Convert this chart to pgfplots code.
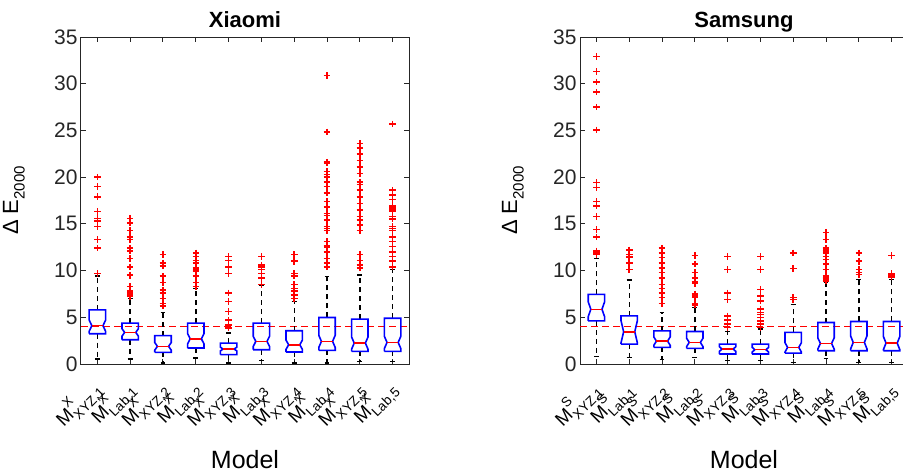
\documentclass[border=0pt]{standalone}
\usepackage{fontspec}
\setmainfont{Liberation Sans}
\usepackage{pgfplots}
\pgfplotsset{compat=1.18}
\definecolor{axc}{rgb}{0.15,0.15,0.15}
\newcommand{\ml}[2]{M\rlap{\raisebox{0.55em}{\fontsize{13.5}{13.5}\selectfont #1}}\raisebox{-0.32em}{\fontsize{13.5}{13.5}\selectfont #2}}
\newcommand{\nbox}[7]{%
 \pgfmathsetmacro\bxA{#1-0.25}\pgfmathsetmacro\bxB{#1+0.25}%
 \pgfmathsetmacro\bxC{#1-0.17}\pgfmathsetmacro\bxD{#1+0.17}%
 \pgfmathsetmacro\bnL{#4-#7}\pgfmathsetmacro\bnU{#4+#7}%
 \pgfmathsetmacro\bcA{#1-0.075}\pgfmathsetmacro\bcB{#1+0.075}%
 \addplot[whisk] coordinates {(#1,#5) (#1,#6)};
 \addplot[whisk] coordinates {(#1,#3) (#1,#2)};
 \addplot[capst] coordinates {(\bcA,#6) (\bcB,#6)};
 \addplot[capst] coordinates {(\bcA,#2) (\bcB,#2)};
 \addplot[boxst] coordinates {(\bxA,#3) (\bxA,\bnL) (\bxC,#4) (\bxA,\bnU) (\bxA,#5) (\bxB,#5) (\bxB,\bnU) (\bxD,#4) (\bxB,\bnL) (\bxB,#3) (\bxA,#3)};
 \addplot[medst] coordinates {(\bxC,#4) (\bxD,#4)};
}
\pgfplotsset{
 whisk/.style={black, line width=1.4pt, dash pattern=on 5pt off 4pt, forget plot},
 capst/.style={black, line width=1.4pt, forget plot},
 boxst/.style={blue, line width=1.6pt, forget plot},
 medst/.style={red, line width=1.5pt, forget plot},
 outl/.style={only marks, mark=+, color=red, mark size=3.3pt, mark options={line width=1.5pt, draw=red}, forget plot},
 bx/.style={scale only axis, width=328pt, height=327pt, anchor=south west,
  xmin=0.5, xmax=10.5, ymin=0, ymax=35, xtick={1,...,10}, ytick={0,5,...,35},
  tick align=inside, tick pos=both, major tick length=5pt,
  axis line style={draw=axc, line width=1pt},
  every tick/.style={axc, line width=1pt},
  /pgf/number format/assume math mode=true,
  yticklabel style={font=\fontsize{21}{21}\selectfont, text=axc},
  xticklabel style={rotate=45, anchor=east, inner sep=0pt, font=\fontsize{19}{19}\selectfont, text=black},
  xticklabel shift=21pt,
  title style={at={(axis description cs:0.5,1)}, anchor=base, yshift=4pt, inner sep=0pt, font=\fontsize{22}{22}\selectfont\bfseries},
  xlabel style={at={(axis description cs:0.5,-0.263)}, anchor=north, inner sep=0pt, font=\fontsize{25}{25}\selectfont},
  ylabel style={at={(axis description cs:-0.192,0.5)}, anchor=base, inner sep=0pt, font=\fontsize{22}{22}\selectfont},
  xlabel={Model},
  ylabel={Δ E\raisebox{-0.3em}{\fontsize{15}{15}\selectfont 2000}},
 }
}
\begin{document}
\begin{tikzpicture}[x=1pt,y=1pt]
\useasboundingbox (0,0) rectangle (903,472);
\begin{axis}[bx, at={(81pt,108pt)}, title={Xiaomi},
 xticklabels={{\ml{X}{XYZ,1}},{\ml{X}{Lab,1}},{\ml{X}{XYZ,2}},{\ml{X}{Lab,2}},{\ml{X}{XYZ,3}},{\ml{X}{Lab,3}},{\ml{X}{XYZ,4}},{\ml{X}{Lab,4}},{\ml{X}{XYZ,5}},{\ml{X}{Lab,5}}}]
\addplot[red, line width=1.3pt, dash pattern=on 7pt off 4pt, forget plot] coordinates {(0.5,4) (10.5,4)};
\nbox{1}{0.53}{3.24}{4.1}{5.8}{9.43}{0.6}
\nbox{2}{0.53}{2.6}{3.38}{4.38}{7.0}{0.4}
\nbox{3}{0.1}{1.25}{1.89}{3.03}{5.52}{0.4}
\nbox{4}{0.64}{1.71}{2.7}{4.38}{8.05}{0.55}
\nbox{5}{0.1}{1.0}{1.6}{2.24}{3.3}{0.2}
\nbox{6}{0.36}{1.53}{2.42}{4.38}{8.4}{0.55}
\nbox{7}{0.1}{1.28}{2.06}{3.56}{6.7}{0.5}
\nbox{8}{0.1}{1.46}{2.42}{4.98}{9.36}{0.65}
\nbox{9}{0.28}{1.35}{2.24}{4.8}{9.54}{0.65}
\nbox{10}{0.28}{1.35}{2.31}{4.9}{10.1}{0.65}
\addplot[outl] coordinates {
(1,20.0) (1,19.0) (1,17.9) (1,16.3) (1,15.6) (1,15.3) (1,14.7) (1,13.3) (1,12.4) (1,9.7)
(2,15.6) (2,15.1) (2,14.3) (2,13.6) (2,13.3) (2,12.4) (2,12.1) (2,11.3) (2,10.4) (2,9.5) (2,8.3) (2,7.8) (2,7.6) (2,7.4) (2,7.3) (2,7.2)
(3,11.7) (3,10.8) (3,10.5) (3,9.4) (3,8.7) (3,7.9) (3,7.6) (3,7.0) (3,6.5) (3,6.2)
(4,11.9) (4,11.5) (4,11.1) (4,10.8) (4,10.3) (4,10.1) (4,10.0) (4,9.9) (4,9.4) (4,8.7) (4,8.3)
(5,11.5) (5,11.1) (5,10.4) (5,9.7) (5,7.6) (5,6.7) (5,5.6) (5,4.7) (5,4.2) (5,3.85)
(6,11.5) (6,10.6) (6,10.4) (6,10.1) (6,9.7) (6,9.2) (6,8.5)
(7,11.7) (7,11.0) (7,9.7) (7,9.4) (7,8.5) (7,8.1) (7,7.8) (7,7.4) (7,7.0)
(8,30.9) (8,24.85) (8,21.6) (8,21.5) (8,20.6) (8,20.3) (8,20.0) (8,19.5) (8,19.0) (8,18.3) (8,17.4) (8,16.8) (8,16.1) (8,15.9) (8,15.4) (8,14.7) (8,14.5) (8,14.3) (8,13.1) (8,12.7) (8,12.5) (8,12.0) (8,11.3) (8,10.8) (8,10.4)
(9,23.6) (9,23.1) (9,22.5) (9,21.8) (9,21.1) (9,20.4) (9,19.5) (9,19.2) (9,18.6) (9,17.9) (9,17.2) (9,16.5) (9,15.8) (9,15.4) (9,14.9) (9,14.3) (9,11.7) (9,11.1) (9,10.6) (9,10.3)
(10,25.7) (10,18.6) (10,18.1) (10,17.6) (10,16.9) (10,16.7) (10,16.5) (10,16.3) (10,15.8) (10,15.5) (10,14.7) (10,14.5) (10,14.3) (10,13.6) (10,13.1) (10,12.6) (10,12.0) (10,11.5) (10,11.0) (10,10.4)
};
\end{axis}
\begin{axis}[bx, at={(580pt,108pt)}, title={Samsung},
 xticklabels={{\ml{S}{XYZ,1}},{\ml{S}{Lab,1}},{\ml{S}{XYZ,2}},{\ml{S}{Lab,2}},{\ml{S}{XYZ,3}},{\ml{S}{Lab,3}},{\ml{S}{XYZ,4}},{\ml{S}{Lab,4}},{\ml{S}{XYZ,5}},{\ml{S}{Lab,5}}}]
\addplot[red, line width=1.3pt, dash pattern=on 7pt off 4pt, forget plot] coordinates {(0.5,4) (10.5,4)};
\nbox{1}{0.82}{4.62}{5.86}{7.46}{11.27}{0.8}
\nbox{2}{0.71}{2.13}{3.45}{5.15}{9.0}{1.2}
\nbox{3}{0.46}{1.78}{2.45}{3.55}{5.5}{0.45}
\nbox{4}{0.71}{1.67}{2.31}{3.48}{6.04}{0.45}
\nbox{5}{0.36}{1.07}{1.6}{2.13}{3.45}{0.25}
\nbox{6}{0.36}{1.07}{1.53}{2.13}{3.73}{0.25}
\nbox{7}{0.18}{1.17}{1.78}{3.38}{6.4}{0.5}
\nbox{8}{0.6}{1.42}{2.2}{4.44}{8.7}{0.6}
\nbox{9}{0.18}{1.42}{2.31}{4.55}{9.06}{0.7}
\nbox{10}{0.18}{1.42}{2.24}{4.55}{9.06}{0.7}
\addplot[outl] coordinates {
(1,32.9) (1,31.3) (1,30.2) (1,29.1) (1,27.5) (1,25.05) (1,19.4) (1,18.9) (1,17.4) (1,16.9) (1,15.8) (1,14.4) (1,13.6) (1,12.1) (1,12.0) (1,11.9) (1,11.7)
(2,12.2) (2,11.7) (2,11.5) (2,11.4) (2,10.8) (2,10.1)
(3,12.4) (3,11.9) (3,11.4) (3,10.8) (3,10.3) (3,9.8) (3,9.2) (3,8.5) (3,8.1) (3,7.6) (3,7.1) (3,6.5)
(4,11.6) (4,10.7) (4,9.8) (4,9.2) (4,8.8) (4,8.6) (4,7.5) (4,7.3) (4,7.1) (4,6.5) (4,6.3)
(5,11.5) (5,10.1) (5,7.6) (5,6.9) (5,5.15) (5,4.7) (5,4.3) (5,3.9)
(6,11.5) (6,10.1) (6,8.0) (6,7.3) (6,6.75) (6,5.9) (6,5.5) (6,5.3) (6,5.0) (6,4.6) (6,4.3) (6,3.9)
(7,11.9) (7,10.2) (7,7.1) (7,6.9)
(8,14.1) (8,13.3) (8,12.4) (8,12.3) (8,12.1) (8,11.9) (8,11.5) (8,11.2) (8,10.7) (8,10.1) (8,9.4) (8,9.2) (8,9.1) (8,8.9)
(9,11.9) (9,11.0) (9,10.1) (9,9.8) (9,9.6)
(10,11.6) (10,9.7) (10,9.5) (10,9.3)
};
\end{axis}
\end{tikzpicture}
\end{document}
